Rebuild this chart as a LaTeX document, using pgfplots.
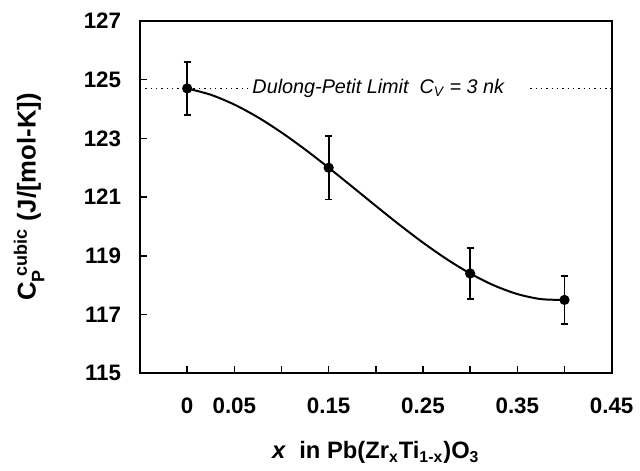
\documentclass[border=0pt]{standalone}
\usepackage{fontspec}
\setmainfont{Liberation Sans}
\usepackage{pgfplots}
\pgfplotsset{compat=1.18}
\begin{document}
\begin{tikzpicture}
\begin{axis}[
  scale only axis,
  width=237.5bp, height=177.5bp,
  xmin=-0.05, xmax=0.45, ymin=115, ymax=127,
  xtick={0,0.05,0.1,0.15,0.2,0.25,0.3,0.35,0.4,0.45},
  xticklabels={0,0.05,,0.15,,0.25,,0.35,,0.45},
  ytick={115,117,119,121,123,125,127},
  yticklabels={115,117,119,121,123,125,127},
  tick align=inside,
  xtick pos=bottom, ytick pos=left,
  major tick length=3.5bp,
  major tick style={line width=0.8bp, black},
  axis line style={line width=1bp},
  tick label style={font=\bfseries\fontsize{11.3}{13}\selectfont},
  xticklabel style={yshift=-9bp},
  yticklabel style={xshift=-6bp},
  /pgf/number format/assume math mode=true,
  xlabel={\bfseries\fontsize{12}{14}\selectfont\textit{x}\ \ in Pb(Zr\textsubscript{x}Ti\textsubscript{1-x})O\textsubscript{3}},
  ylabel={\bfseries\fontsize{13}{15}\selectfont C\rlap{\raisebox{-0.35ex}{\textsubscript{P}}}\raisebox{0.25ex}{\textsubscript{\textsuperscript{\ }}}\textsuperscript{cubic}\ (J/[mol-K])},
  xlabel style={at={(axis description cs:0.5,-0.225)}, anchor=center},
  ylabel style={at={(axis description cs:-0.235,0.5)}, anchor=center},
  clip=false,
]
% Dulong-Petit limit (dotted)
\addplot[black, dotted, line width=0.7bp] coordinates {(-0.05,124.7) (0.0647,124.7)};
\addplot[black, dotted, line width=0.7bp] coordinates {(0.3637,124.7) (0.45,124.7)};
% fitted curve
\addplot[black, line width=1bp, smooth] coordinates {
(0,124.70) (0.025,124.484) (0.05,124.15) (0.075,123.716) (0.1,123.2)
(0.125,122.622) (0.15,122.0) (0.175,121.353) (0.2,120.7) (0.225,120.059)
(0.25,119.45) (0.275,118.891) (0.3,118.4) (0.325,117.997) (0.35,117.7)
(0.375,117.528) (0.4,117.5)
};
% data with error bars
\addplot[black, only marks, mark=*, mark size=2.1bp, line width=0.9bp,
  error bars/.cd, y dir=both, y explicit,
  error mark options={rotate=90, mark size=1.8bp, line width=0.9bp},
  error bar style={line width=0.9bp}]
  coordinates {
  (0,124.7) +- (0,0.9)
  (0.15,122.0) +- (0,1.08)
  (0.3,118.4) +- (0,0.87)
  (0.4,117.5) +- (0,0.81)
};
\node[font=\itshape\fontsize{10}{12}\selectfont, anchor=center] at (axis cs:0.2026,124.7) {Dulong-Petit Limit\ \ C\textsubscript{V} = 3 nk};
\end{axis}
\path ([shift={(-70.5bp,-47bp)}]current axis.south west) rectangle ([shift={(12bp,10.5bp)}]current axis.north east);
\end{tikzpicture}
\end{document}
